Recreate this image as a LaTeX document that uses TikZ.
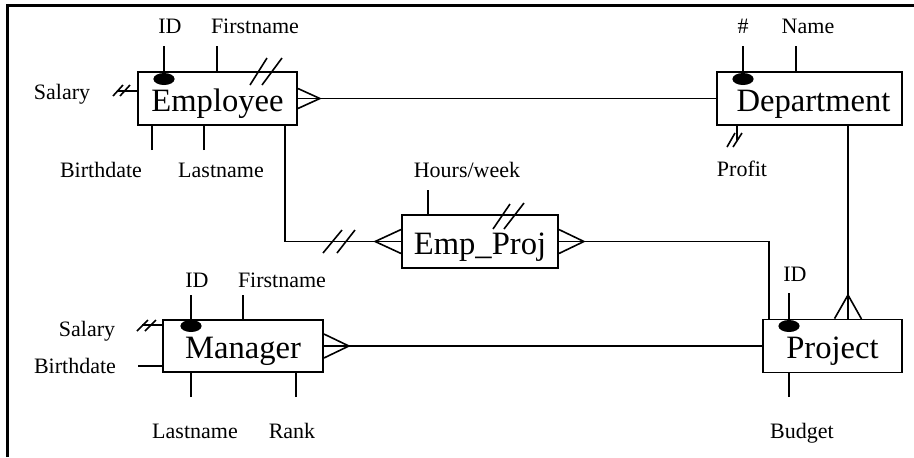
\documentclass[tikz,border=0pt]{standalone}
\usepackage{fontspec}
\setmainfont{Liberation Serif}
\usetikzlibrary{positioning}
\tikzstyle{entity} = [draw, rectangle, line width=0.9pt, inner sep=0pt, text height=13pt, text depth=0.5pt, font=\fontsize{16.3}{18}\selectfont]
\tikzstyle{attr} = [inner sep=0pt, anchor=base, font=\fontsize{11}{13}\selectfont]

\begin{document}
\begin{tikzpicture}[x=0.5pt,y=-0.5pt,line width=0.8pt]
                \useasboundingbox (0,0) rectangle (914,457);
                \draw[line width=1.5pt] (7,457) -- (7,5) -- (914,5);

                % entities
                \node[entity, minimum width=79.5pt, minimum height=26.5pt] (emp) at (217.5,98.5) {Employee};
                \node[entity, minimum width=92.5pt, minimum height=26.5pt] (dep) at (809.5,98.5) {\hspace*{4pt}Department};
                \node[entity, minimum width=78pt, minimum height=26.5pt] (epj) at (480,241.5) {Emp\_Proj};
                \node[entity, minimum width=80pt, minimum height=26pt] (mgr) at (243,346) {Manager};
                \node[entity, minimum width=69.5pt, minimum height=26.5pt] (prj) at (832.5,346) {Project};

                % Employee attributes
                \node[attr] (empid) at (170,33) {ID};
                \node[attr] (empfirst) at (255,33) {Firstname};
                \node[attr] (empsal) at (62,99) {Salary};
                \node[attr] (empbirth) at (101,177) {Birthdate};
                \node[attr] (emplast) at (221,177) {Lastname};
                \coordinate (empidS) at (164,46);
                \coordinate (empfirstS) at (217,46);
                \coordinate (empsalS) at (118,91);
                \coordinate (empbirthS) at (152,150);
                \coordinate (emplastS) at (204,150);
                \draw (empidS) -- (empidS |- emp.north);
                \draw (empfirstS) -- (empfirstS |- emp.north);
                \draw (empsalS) -- (empsalS -| emp.west);
                \draw (empbirthS) -- (empbirthS |- emp.south);
                \draw (emplastS) -- (emplastS |- emp.south);
                \fill (164,79) ellipse [x radius=5.3pt, y radius=3pt];
                \draw (113,96) -- (123,85) (120,96) -- (130,85);
                \draw (250,85) -- (267,58) (262,85) -- (282,58);

                % Department attributes
                \node[attr] (depnum) at (743,33) {\#};
                \node[attr] (depname) at (808,33) {Name};
                \node[attr] (depprofit) at (742,176) {Profit};
                \coordinate (depnumS) at (743,46);
                \coordinate (depnameS) at (796,46);
                \coordinate (depprofitS) at (737,140);
                \draw (depnumS) -- (depnumS |- dep.north);
                \draw (depnameS) -- (depnameS |- dep.north);
                \draw (depprofitS) -- (depprofitS |- dep.south);
                \fill (743,79) ellipse [x radius=5.3pt, y radius=3pt];
                \draw (727,147) -- (735,133) (733,147) -- (742,133);

                % Emp_Proj attributes
                \node[attr] (epjhours) at (467,177) {Hours/week};
                \coordinate (epjhoursS) at (428,190);
                \draw (epjhoursS) -- (epjhoursS |- epj.north);
                \draw (493,229) -- (510,204) (504,229) -- (524,203);

                % Manager attributes
                \node[attr] (mgrid) at (197,287) {ID};
                \node[attr] (mgrfirst) at (282,287) {Firstname};
                \node[attr] (mgrsal) at (87,336) {Salary};
                \node[attr] (mgrbirth) at (75,373) {Birthdate};
                \node[attr] (mgrlast) at (195,438) {Lastname};
                \node[attr] (mgrrank) at (292,438) {Rank};
                \coordinate (mgridS) at (191,295);
                \coordinate (mgrfirstS) at (243,295);
                \coordinate (mgrsalS) at (142,325);
                \coordinate (mgrbirthS) at (138,366);
                \coordinate (mgrlastS) at (191,397);
                \coordinate (mgrrankS) at (296,397);
                \draw (mgridS) -- (mgridS |- mgr.north);
                \draw (mgrfirstS) -- (mgrfirstS |- mgr.north);
                \draw (mgrsalS) -- (mgrsalS -| mgr.west);
                \draw (mgrbirthS) -- (mgrbirthS -| mgr.west);
                \draw (mgrlastS) -- (mgrlastS |- mgr.south);
                \draw (mgrrankS) -- (mgrrankS |- mgr.south);
                \fill (191,326) ellipse [x radius=5.3pt, y radius=3pt];
                \draw (137,331) -- (148,320) (145,331) -- (156,320);

                % Project attributes
                \node[attr] (prjid) at (795,281) {ID};
                \node[attr] (prjbudget) at (802,438) {Budget};
                \coordinate (prjidS) at (789,293);
                \coordinate (prjbudgetS) at (789,397);
                \draw (prjidS) -- (prjidS |- prj.north);
                \draw (prjbudgetS) -- (prjbudgetS |- prj.south);
                \fill (789,326) ellipse [x radius=5.3pt, y radius=3pt];

                % relationships
                \draw (emp.east) -- (dep.west);
                \draw (emp.east) ++(0,-10) -- ++(22,10) -- ++(-22,10);

                \draw ([xshift=-6.5pt]emp.south east) |- (epj.west);
                \draw (epj.west) ++(0,-12) -- ++(-26,12) -- ++(26,12);
                \draw (323,253) -- (342,230) (337,253) -- (355,230);
                \draw (epj.east) -| ([xshift=3.5pt]prj.north west);
                \draw (epj.east) ++(0,-12) -- ++(25,12) -- ++(-25,12);

                \coordinate (prjcf) at (848,295);
                \draw (prjcf |- dep.south) -- (prjcf |- prj.north);
                \draw (prjcf |- prj.north) ++(-13.5,0) -- (prjcf) -- ++(13.5,24);

                \draw (mgr.east) -- (prj.west);
                \draw (mgr.east) ++(0,-12) -- ++(25,12) -- ++(-25,12);
            \end{tikzpicture}
\end{document}
